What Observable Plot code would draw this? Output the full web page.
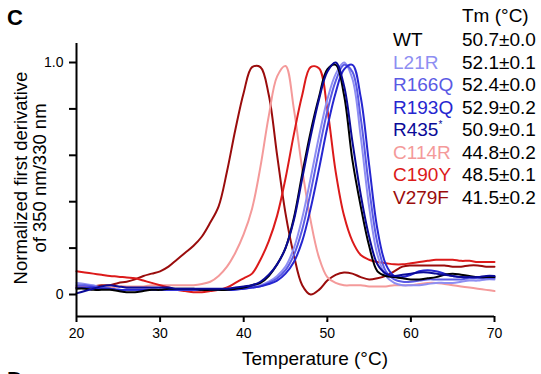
<!DOCTYPE html>
<html>
<head>
<meta charset="utf-8">
<script src="https://cdn.jsdelivr.net/npm/d3@7"></script>
<script src="https://cdn.jsdelivr.net/npm/@observablehq/plot@0.6"></script>
<style>
  html, body { margin: 0; padding: 0; background: #fff; overflow: hidden; }
  #wrap { position: relative; width: 541px; height: 374px; overflow: hidden; font-family: "Liberation Sans", Arial, sans-serif; color: #000; }
  #wrap svg { position: absolute; left: 0; top: 0; }
  .ov { position: absolute; white-space: nowrap; }
  .panel { font-weight: bold; font-size: 22px; line-height: 22px; }
  .leg { font-size: 19px; line-height: 22.5px; }
</style>
</head>
<body>
<div id="wrap"></div>
<script>
// ---- data ----
const temps = [20,21,22,23,24,25,26,27,28,29,30,31,32,33,34,35,36,37,38,39,40,41,42,43,44,45,46,47,48,49,50,51,52,53,54,55,56,57,58,59,60,61,62,63,64,65,66,67,68,69,70];

const wt    = [0.025,0.025,0.02,0.02,0.02,0.015,0.01,0.01,0.015,0.02,0.02,0.025,0.025,0.025,0.025,0.02,0.02,0.02,0.02,0.025,0.03,0.04,0.05,0.08,0.13,0.2,0.33,0.52,0.7,0.85,0.97,0.99,0.86,0.58,0.38,0.21,0.1,0.08,0.075,0.07,0.065,0.065,0.07,0.075,0.085,0.09,0.085,0.08,0.075,0.075,0.075];
const l21r  = [0.05,0.045,0.04,0.03,0.025,0.02,0.02,0.02,0.02,0.02,0.02,0.02,0.02,0.02,0.02,0.02,0.02,0.02,0.025,0.025,0.03,0.035,0.04,0.055,0.08,0.12,0.2,0.33,0.5,0.68,0.84,0.95,1.0,0.93,0.68,0.38,0.17,0.08,0.05,0.04,0.04,0.04,0.045,0.05,0.05,0.05,0.055,0.06,0.06,0.065,0.065];
const r166q = [0.04,0.04,0.035,0.03,0.025,0.02,0.02,0.02,0.02,0.02,0.02,0.02,0.02,0.02,0.02,0.02,0.02,0.02,0.02,0.025,0.025,0.03,0.035,0.05,0.07,0.105,0.17,0.28,0.44,0.62,0.79,0.92,0.99,0.96,0.76,0.46,0.22,0.1,0.065,0.055,0.055,0.06,0.065,0.065,0.065,0.065,0.065,0.07,0.07,0.07,0.07];
const r193q = [0.03,0.03,0.03,0.025,0.025,0.02,0.02,0.02,0.02,0.02,0.02,0.02,0.02,0.02,0.02,0.02,0.02,0.02,0.02,0.02,0.025,0.03,0.035,0.045,0.06,0.09,0.14,0.23,0.37,0.54,0.72,0.87,0.97,0.99,0.85,0.56,0.28,0.13,0.08,0.075,0.085,0.1,0.105,0.1,0.09,0.08,0.075,0.075,0.075,0.075,0.075];
const r435  = [0.005,0.015,0.025,0.035,0.04,0.035,0.03,0.03,0.03,0.03,0.03,0.03,0.025,0.025,0.025,0.025,0.025,0.025,0.025,0.03,0.035,0.04,0.055,0.085,0.13,0.2,0.32,0.5,0.68,0.84,0.96,1.0,0.9,0.66,0.43,0.25,0.13,0.09,0.08,0.085,0.09,0.095,0.095,0.09,0.085,0.08,0.075,0.075,0.075,0.08,0.08];
const c114r = [0.035,0.035,0.03,0.03,0.03,0.035,0.035,0.035,0.035,0.04,0.04,0.04,0.04,0.04,0.04,0.045,0.055,0.08,0.12,0.18,0.26,0.37,0.55,0.77,0.94,0.985,0.8,0.54,0.32,0.16,0.075,0.05,0.04,0.04,0.04,0.035,0.035,0.035,0.04,0.04,0.04,0.045,0.05,0.05,0.045,0.04,0.035,0.03,0.025,0.02,0.015];
const c190y = [0.1,0.095,0.09,0.085,0.08,0.077,0.073,0.07,0.06,0.05,0.04,0.03,0.02,0.015,0.01,0.01,0.015,0.02,0.03,0.05,0.07,0.09,0.15,0.23,0.34,0.5,0.69,0.86,0.98,0.975,0.8,0.53,0.34,0.23,0.17,0.15,0.14,0.135,0.13,0.13,0.135,0.14,0.145,0.15,0.15,0.15,0.145,0.145,0.14,0.14,0.14];
const v279f = [0.03,0.03,0.035,0.04,0.04,0.05,0.055,0.065,0.08,0.09,0.1,0.12,0.15,0.18,0.21,0.25,0.31,0.38,0.53,0.71,0.87,0.98,0.98,0.86,0.6,0.35,0.17,0.04,0.0,0.02,0.06,0.085,0.095,0.09,0.075,0.065,0.07,0.08,0.1,0.12,0.125,0.125,0.125,0.125,0.125,0.12,0.12,0.125,0.125,0.12,0.12];

const names    = ["WT","L21R","R166Q","R193Q","R435*","C114R","C190Y","V279F"];
const tmLabels = ["50.7±0.0","52.1±0.1","52.4±0.0","52.9±0.2","50.9±0.1","44.8±0.2","48.5±0.1","41.5±0.2"];
const seriesValues = [wt, l21r, r166q, r193q, r435, c114r, c190y, v279f];
const colors   = ["#000000","#8e8ef2","#5a5ae4","#2626d0","#0a0a98","#f49a9a","#dc1a1a","#9a0c0c"];
const drawOrder = ["V279F","C114R","C190Y","L21R","R166Q","R193Q","WT","R435*"];

const xTicks = [20,30,40,50,60,70];
const yTicks = [0,0.2,0.4,0.6,0.8,1.0];
const yTickLabels = {"0":"0","1":"1.0"};
const yDomain = [-0.0948, 1.0819];

// ---- build table ----
const rows = drawOrder.flatMap(n => {
  const i = names.indexOf(n);
  return temps.map((t, j) => ({series: n, t, v: seriesValues[i][j]}));
});

const chart = Plot.plot({
  width: 541, height: 374,
  marginLeft: 76, marginRight: 47, marginTop: 43, marginBottom: 58,
  style: {fontFamily: '"Liberation Sans", Arial, sans-serif', fontSize: "14px", color: "#000", background: "transparent", overflow: "visible"},
  x: {domain: [20, 70]},
  y: {domain: yDomain},
  color: {domain: names, range: colors},
  marks: [
    Plot.lineY(rows, {x: "t", y: "v", z: "series", stroke: "series", strokeWidth: 2, curve: "catmull-rom"}),
    Plot.axisX({ticks: xTicks, tickSize: 6, tickPadding: 6, strokeWidth: 2, fontSize: 14, label: null}),
    Plot.axisY({ticks: yTicks, tickSize: 7, tickPadding: 6, strokeWidth: 2, fontSize: 14, label: null,
      tickFormat: d => yTickLabels[String(d)] ?? ""}),
    Plot.ruleX([20], {strokeWidth: 2}),
    Plot.ruleY([yDomain[0]], {strokeWidth: 2})
  ]
});

const wrap = document.getElementById("wrap");
wrap.appendChild(chart);

function addDiv(cls, html, css) {
  const d = document.createElement("div");
  d.className = "ov " + cls;
  d.innerHTML = html;
  Object.assign(d.style, css);
  wrap.appendChild(d);
  return d;
}

// panel letters
addDiv("panel", "C", {left: "7px", top: "7px"});
addDiv("panel", "D", {left: "7px", top: "369px"});

// legend
addDiv("leg", "Tm (°C)", {left: "462px", top: "5px"});
names.forEach((n, i) => {
  const label = n.endsWith("*")
    ? n.slice(0, -1) + '<span style="font-size:10px;position:relative;top:-8px;">*</span>'
    : n;
  addDiv("leg", label, {left: "393px", top: (29 + i * 22.5) + "px", color: colors[i]});
  addDiv("leg", tmLabels[i], {left: "462px", top: (29 + i * 22.5) + "px"});
});

// axis titles
addDiv("leg", "Temperature (°C)", {left: "315px", top: "348px", transform: "translateX(-50%)"});
addDiv("", "Normalized first derivative<br>of 350 nm/330 nm", {
  left: "30px", top: "178px", fontSize: "18.5px", lineHeight: "19px", textAlign: "center",
  transform: "translate(-50%,-50%) rotate(-90deg)"
});
</script>
</body>
</html>
